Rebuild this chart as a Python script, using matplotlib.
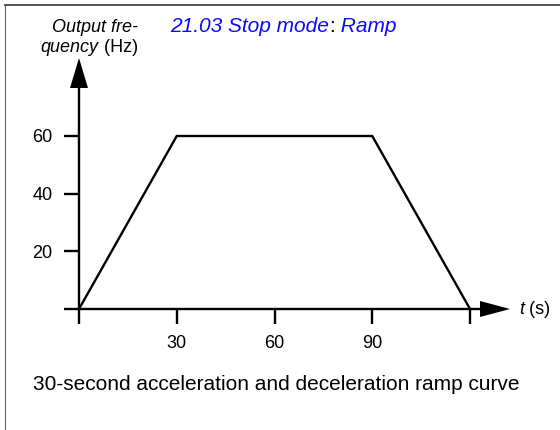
import matplotlib
matplotlib.use("Agg")
import matplotlib.pyplot as plt
from matplotlib.lines import Line2D
from matplotlib.offsetbox import TextArea, HPacker, AnnotationBbox

plt.rcParams['font.family'] = ['Liberation Sans', 'DejaVu Sans']

# ---- data ----
time_s = [0, 30, 90, 120]
freq_hz = [0, 60, 60, 0]
x_ticks = [0, 30, 60, 90, 120]
x_tick_labels = ['', '30', '60', '90', '']
y_ticks = [0, 20, 40, 60]
y_tick_labels = ['', '20', '40', '60']
title_parts = ['21.03 Stop mode', ':', ' Ramp']
ylabel_parts = [['Output fre-'], ['quency', ' (Hz)']]
xlabel_parts = ['t', ' (s)']
caption = '30-second acceleration and deceleration ramp curve'

W, H = 560, 430
fig = plt.figure(figsize=(W / 100, H / 100), dpi=100)
ax = fig.add_axes([0, 0, 1, 1])

# pixel mapping of the diagram (layout)
ox, oy = 79, 309          # origin in pixels (from top-left)
sx = (470 - ox) / 120.0   # px per second
sy = (309 - 136) / 60.0   # px per Hz
ax.set_xlim(-ox / sx, (W - ox) / sx)
ax.set_ylim((oy - H) / sy, oy / sy)
ax.patch.set_alpha(0)

LW = 1.7
ax.plot(time_s, freq_hz, color='black', lw=LW, solid_joinstyle='miter', zorder=3)

for side in ('top', 'right'):
    ax.spines[side].set_visible(False)
ax.spines['left'].set_position(('data', 0))
ax.spines['bottom'].set_position(('data', 0))
for side in ('left', 'bottom'):
    ax.spines[side].set_linewidth(LW)
ax.spines['left'].set_bounds(0, (oy - 88) / sy)
ax.spines['bottom'].set_bounds(0, (481 - ox) / sx)

ax.set_xticks(x_ticks)
ax.set_xticklabels(x_tick_labels)
ax.set_yticks(y_ticks)
ax.set_yticklabels(y_tick_labels)
ax.tick_params(axis='x', direction='out', length=10.5, width=LW, pad=8.5, labelsize=13)
ax.tick_params(axis='y', direction='out', length=11, width=LW, pad=8, labelsize=13)

# arrow heads
yt = (oy - 58) / sy
yb = (oy - 88) / sy
hw = 9 / sx
ax.fill([-hw, hw, 0], [yb, yb, yt], color='black', lw=0, clip_on=False)
xb = (480 - ox) / sx
xt = (510 - ox) / sx
hh = 8 / sy
ax.fill([xb, xb, xt], [-hh, hh, 0], color='black', lw=0, clip_on=False)


def rich(pieces, xy, align, fontsize):
    areas = [TextArea(s, textprops=dict(fontsize=fontsize, **p)) for s, p in pieces]
    pack = HPacker(children=areas, align='baseline', pad=0, sep=0)
    ab = AnnotationBbox(pack, (xy[0], H - xy[1]), xycoords='figure pixels',
                        box_alignment=align, frameon=False, pad=0)
    ax.add_artist(ab)


BLUE = '#0a0aff'
rich([(title_parts[0], dict(color=BLUE, style='italic')),
      (title_parts[1], dict(color='black')),
      (title_parts[2], dict(color=BLUE, style='italic'))],
     (170, 27), (0, 0.5), 15)

rich([(ylabel_parts[0][0], dict(color='black', style='italic'))], (138, 27), (1, 0.5), 13)
rich([(ylabel_parts[1][0], dict(color='black', style='italic')),
      (ylabel_parts[1][1], dict(color='black'))], (138, 47), (1, 0.5), 13)

rich([(xlabel_parts[0], dict(color='black', style='italic')),
      (xlabel_parts[1], dict(color='black'))], (519, 309), (0, 0.5), 13)

fig.text(276 / W, 1 - 384 / H, caption, ha='center', va='center', fontsize=15, color='black')

# frame lines (left and top)
fig.add_artist(Line2D([4.5 / W, 4.5 / W], [0, 1 - 4.5 / H], transform=fig.transFigure,
                      color='#666666', lw=0.8))
fig.add_artist(Line2D([4.5 / W, 1], [1 - 4.5 / H, 1 - 4.5 / H], transform=fig.transFigure,
                      color='#444444', lw=1.3))

fig.savefig('out.png', dpi=100)
